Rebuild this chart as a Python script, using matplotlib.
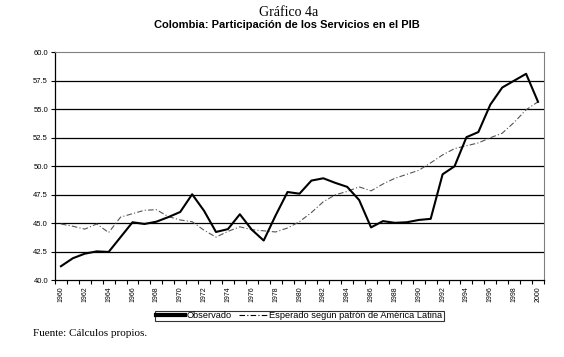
import matplotlib.pyplot as plt
import numpy as np
from matplotlib.lines import Line2D

years = list(range(1960, 2001))

observado = [41.25, 41.95, 42.35, 42.55, 42.5, 43.8, 45.1, 44.95, 45.15, 45.55,
             46.0, 47.55, 46.1, 44.25, 44.5, 45.8, 44.45, 43.5, 45.7, 47.75,
             47.6, 48.75, 48.95, 48.55, 48.2, 47.05, 44.65, 45.2, 45.05, 45.1,
             45.3, 45.4, 49.3, 50.0, 52.55, 53.0, 55.4, 56.9, 57.5, 58.1,
             55.65]

esperado = [44.95, 44.75, 44.5, 44.95, 44.2, 45.55, 45.85, 46.15, 46.2, 45.6,
            45.3, 45.15, 44.4, 43.8, 44.3, 44.7, 44.45, 44.35, 44.25, 44.6,
            45.15, 45.95, 46.9, 47.5, 47.8, 48.2, 47.85, 48.45, 48.95, 49.3,
            49.65, 50.3, 51.0, 51.55, 51.8, 52.05, 52.5, 52.9, 53.85, 54.95,
            55.65]

y_ticks = [40.0, 42.5, 45.0, 47.5, 50.0, 52.5, 55.0, 57.5, 60.0]

fig = plt.figure(figsize=(5.64, 3.57), dpi=100)
ax = fig.add_axes([0.0975, 0.2143, 0.867, 0.6397])

for v in y_ticks[1:-1]:
    ax.axhline(v, color='black', lw=0.9, zorder=1)

ax.plot(years, observado, color='black', lw=1.5, zorder=3)
ax.plot(years, esperado, color='#555555', lw=0.8, linestyle=(0, (5, 2, 1, 2)), zorder=2)

ax.set_xlim(1959.5, 2000.5)
ax.set_ylim(40, 60)
ax.set_yticks(y_ticks)
ax.set_yticklabels([f"{v:.1f}" for v in y_ticks], fontsize=5.5, family='Liberation Sans')

ax.set_xticks(np.arange(1959.5, 2001, 1.0))
ax.set_xticklabels([])
ax.set_xticks(years[::2], minor=True)
ax.set_xticklabels([str(y) for y in years[::2]], minor=True, rotation=90,
                   fontsize=5, family='Liberation Sans')
ax.tick_params(axis='x', which='major', length=3, width=0.8, direction='out')
ax.tick_params(axis='x', which='minor', length=0, pad=4)
ax.tick_params(axis='y', length=3, width=0.8, direction='out', pad=2)

for s in ['top', 'right']:
    ax.spines[s].set_color('#808080')
    ax.spines[s].set_linewidth(0.8)
for s in ['left', 'bottom']:
    ax.spines[s].set_color('black')
    ax.spines[s].set_linewidth(0.9)

handles = [Line2D([], [], color='black', lw=3),
           Line2D([], [], color='black', lw=0.8, linestyle=(0, (5, 2, 1, 2)))]
leg = fig.legend(handles, ['Observado', 'Esperado según patrón de América Latina'],
                 loc='center', bbox_to_anchor=(0.531, 0.115), ncol=2,
                 prop={'family': 'Liberation Sans', 'size': 6.7},
                 frameon=True, fancybox=False, borderpad=0.1, handlelength=3.1,
                 handletextpad=0.15, columnspacing=0.8, borderaxespad=0)
leg.get_frame().set_edgecolor('black')
leg.get_frame().set_linewidth(0.8)

fig.text(0.511, 0.964, 'Gráfico 4a', ha='center', va='center',
         family='Liberation Serif', fontsize=10)
fig.text(0.508, 0.93, 'Colombia: Participación de los Servicios en el PIB',
         ha='center', va='center', family='Liberation Sans', fontsize=8, weight='bold')
fig.text(0.058, 0.067, 'Fuente: Cálculos propios.', ha='left', va='center',
         family='Liberation Serif', fontsize=8)

fig.savefig('out.png', dpi=100)
